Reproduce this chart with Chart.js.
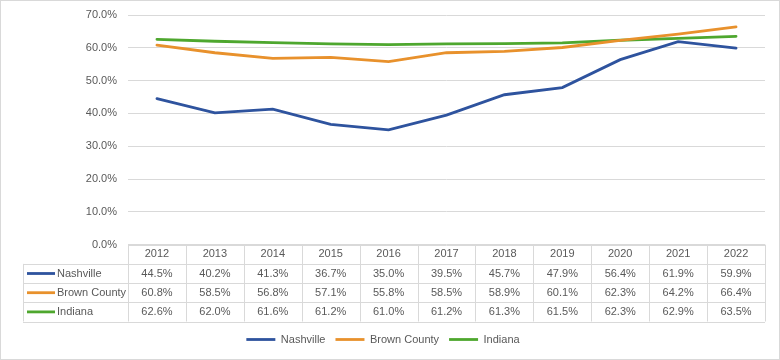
<!DOCTYPE html>
<html>
<head>
<meta charset="utf-8">
<title>Nashville / Brown County / Indiana</title>
<script src="https://cdn.jsdelivr.net/npm/chart.js@4.4.1/dist/chart.umd.min.js"></script>
<style>
  html, body { margin: 0; padding: 0; background: #ffffff; }
  #wrap { width: 778px; height: 358px; border: 1px solid #d9d9d9; }
  canvas { display: block; }
</style>
</head>
<body>
<div id="wrap"><canvas id="chart" width="778" height="358"></canvas></div>
<script>
const years = ['2012', '2013', '2014', '2015', '2016', '2017', '2018', '2019', '2020', '2021', '2022'];
const nashville = [44.5, 40.2, 41.3, 36.7, 35.0, 39.5, 45.7, 47.9, 56.4, 61.9, 59.9];
const brownCounty = [60.8, 58.5, 56.8, 57.1, 55.8, 58.5, 58.9, 60.1, 62.3, 64.2, 66.4];
const indiana = [62.6, 62.0, 61.6, 61.2, 61.0, 61.2, 61.3, 61.5, 62.3, 62.9, 63.5];
const yTicks = [0, 10, 20, 30, 40, 50, 60, 70];

const seriesNames = ['Nashville', 'Brown County', 'Indiana'];
const seriesValues = [nashville, brownCounty, indiana];
const seriesColors = ['#2e539e', '#e8912c', '#4ea72e'];

const TEXT = '#595959';
const GRID = '#d9d9d9';
const ROW_H = 19.2;

Chart.defaults.font.family = "'Liberation Sans', Arial, sans-serif";
Chart.defaults.font.size = 11;
Chart.defaults.color = TEXT;

// Draws the data table lines and row headers under the plot, using the x scale
const dataTablePlugin = {
  id: 'dataTable',
  afterDraw(chart) {
    const { ctx, chartArea, scales } = chart;
    const x = scales.x;
    const top = chartArea.bottom;
    const bottom = top + ROW_H * 4;
    const headLeft = 22;

    ctx.save();
    ctx.strokeStyle = GRID;
    ctx.lineWidth = 1;
    ctx.beginPath();
    // horizontal lines
    for (let r = 0; r <= 4; r++) {
      const y = Math.round(top + r * ROW_H) + 0.5;
      ctx.moveTo(r === 0 ? chartArea.left : headLeft, y);
      ctx.lineTo(chartArea.right, y);
    }
    // vertical lines at category boundaries
    const half = (x.getPixelForValue(1) - x.getPixelForValue(0)) / 2;
    for (let i = 0; i <= years.length; i++) {
      const px = Math.round(i < years.length ? x.getPixelForValue(i) - half : x.getPixelForValue(years.length - 1) + half) + 0.5;
      ctx.moveTo(px, top);
      ctx.lineTo(px, bottom);
    }
    ctx.moveTo(headLeft + 0.5, top + ROW_H);
    ctx.lineTo(headLeft + 0.5, bottom);
    ctx.stroke();

    // row headers with legend keys
    ctx.font = "11px 'Liberation Sans', Arial, sans-serif";
    ctx.textBaseline = 'middle';
    ctx.textAlign = 'left';
    seriesNames.forEach((name, r) => {
      const y = top + ROW_H * (r + 1.5);
      ctx.strokeStyle = seriesColors[r];
      ctx.lineWidth = 2.8;
      ctx.beginPath();
      ctx.moveTo(headLeft + 4, y);
      ctx.lineTo(headLeft + 32, y);
      ctx.stroke();
      ctx.fillStyle = TEXT;
      ctx.fillText(name, headLeft + 34, y + 0.5);
    });
    ctx.restore();
  }
};

new Chart(document.getElementById('chart'), {
  type: 'line',
  data: {
    labels: years,
    datasets: seriesNames.map((name, i) => ({
      label: name,
      data: seriesValues[i],
      borderColor: seriesColors[i],
      backgroundColor: seriesColors[i],
      borderWidth: 2.8,
      pointRadius: 0,
      tension: 0,
      borderCapStyle: 'round'
    }))
  },
  options: {
    responsive: false,
    animation: false,
    layout: { padding: { top: 14, right: 14, bottom: 4, left: 0 } },
    plugins: {
      tooltip: { enabled: false },
      legend: {
        position: 'bottom',
        labels: {
          usePointStyle: true,
          pointStyle: 'line',
          pointStyleWidth: 29,
          padding: 10,
          color: TEXT,
          font: { size: 11 }
        }
      }
    },
    scales: {
      x: {
        offset: true,
        afterFit(scale) { scale.height = ROW_H * 4 + 2.5; },
        grid: { display: false, drawTicks: false },
        border: { display: false },
        ticks: {
          padding: 0,
          maxRotation: 0,
          autoSkip: false,
          font: { size: 11, lineHeight: ROW_H + 'px' },
          callback: (v, i) => [years[i], ...seriesValues.map(s => s[i].toFixed(1) + '%')]
        }
      },
      y: {
        min: yTicks[0],
        max: yTicks[yTicks.length - 1],
        afterFit(scale) {
          scale.width = 127;
          scale.paddingTop = 0;
          scale.paddingBottom = 0;
        },
        afterBuildTicks(scale) { scale.ticks = yTicks.map(v => ({ value: v })); },
        grid: { color: GRID, drawTicks: false },
        border: { display: false },
        ticks: {
          padding: 11,
          font: { size: 11 },
          callback: v => v.toFixed(1) + '%'
        }
      }
    }
  },
  plugins: [dataTablePlugin]
});
</script>
</body>
</html>
